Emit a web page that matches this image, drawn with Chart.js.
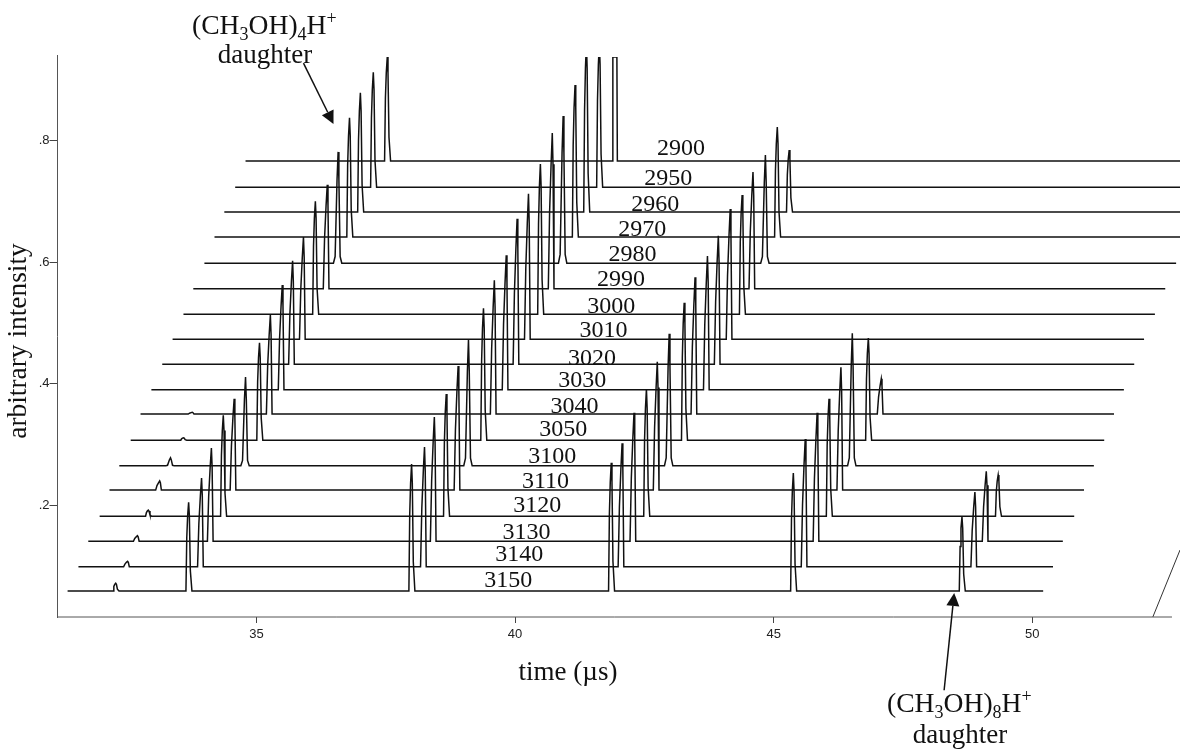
<!DOCTYPE html>
<html>
<head>
<meta charset="utf-8">
<style>html,body{margin:0;padding:0;background:#fff}canvas{display:block}</style>
<script src="https://cdn.jsdelivr.net/npm/chart.js@4/dist/chart.umd.min.js"></script>
</head>
<body>
<canvas id="c" width="1180" height="749"></canvas>
<script>
// Trace labels, back to front
const traceLabels = ['2900','2950','2960','2970','2980','2990','3000','3010','3020','3030','3040','3050','3100','3110','3120','3130','3140','3150'];
const baselines = [.766,.723,.682,.641,.598,.556,.514,.473,.432,.390,.350,.307,.265,.225,.182,.141,.099,.059];
const startTimes = [34.79,34.59,34.38,34.19,33.995,33.78,33.59,33.38,33.18,32.97,32.76,32.57,32.35,32.16,31.97,31.75,31.56,31.35];
const endTimes = [53.65,53.45,53.24,53.05,52.78,52.57,52.37,52.16,51.97,51.77,51.58,51.39,51.19,51.00,50.81,50.59,50.40,50.21];

// Peaks: time and top intensity on each trace (null = no peak on that trace)
const _ = null;
const smallTimes = [_,_,_,_,_,_,_,_,_,_,33.76,33.59,33.34,33.13,32.91,32.70,32.51,32.28];
const smallTops  = [_,_,_,_,_,_,_,_,_,_,.353,.311,.278,.240,.192,.150,.108,.072];
const daughter4Times = [37.53,37.26,37.01,36.80,36.58,36.37,36.14,35.91,35.70,35.50,35.27,35.06,34.79,34.57,34.36,34.13,33.94,33.69];
const daughter4Tops  = [.937,.912,.878,.837,.781,.727,.700,.641,.602,.562,.513,.467,.411,.375,.348,.294,.245,.205];
const midTimes = [41.93,41.63,41.38,41.16,40.93,40.72,40.49,40.26,40.04,39.83,39.60,39.39,39.10,38.90,38.67,38.44,38.25,38.00];
const midTops  = [.937,.96,.96,.891,.840,.812,.761,.712,.671,.611,.570,.524,.472,.429,.383,.345,.296,.268];
const thirdTimes = [_,_,45.30,45.07,44.84,44.60,44.39,44.16,43.93,43.72,43.48,43.27,42.98,42.75,42.54,42.30,42.07,41.86];
const thirdTops  = [_,_,.784,.822,.776,.748,.710,.687,.643,.610,.575,.533,.482,.436,.391,.352,.302,.270];
const fourthTimes = [_,_,_,_,_,_,_,_,_,_,47.08,46.83,46.52,46.30,46.07,45.84,45.61,45.38];
const fourthTops  = [_,_,_,_,_,_,_,_,_,_,.408,.475,.483,.427,.375,.352,.309,.253];
const daughter8Times = [_,_,_,_,_,_,_,_,_,_,_,_,_,_,49.34,49.11,48.89,48.64];
const daughter8Tops  = [_,_,_,_,_,_,_,_,_,_,_,_,_,_,.250,.256,.222,.181];
const peakFamilies = [[smallTimes,smallTops],[daughter4Times,daughter4Tops],[midTimes,midTops],[thirdTimes,thirdTops],[fourthTimes,fourthTops],[daughter8Times,daughter8Tops]];

const profiles = {
  R:{dt:[-.052,-.036,-.019,0,.014,.033,.064],      f:[0,.6,.85,1,.85,.23,0]},
  L:{dt:[-.077,-.052,-.023,0,.014,.033],           f:[0,.49,.8,1,.8,0]},
  B:{dt:[-.091,-.058,-.021,0,.015,.039,.071],      f:[0,.06,.75,1,.75,.06,0]},
  F:{dt:[-.048,-.039,.039,.048],                   f:[0,1,1,0]}   // saturated, flat-topped peak
};
const traceProfile = ['R','R','R','R','B','L','R','L','L','L','L','R','B','L','R','L','L','R'];
const saturatedPeak = {trace:0, family:2};

// Label positions (time, intensity)
const labelTimes = [43.21,42.96,42.71,42.46,42.27,42.05,41.86,41.71,41.49,41.30,41.15,40.93,40.72,40.59,40.43,40.22,40.08,39.87];
const labelLevels = [.789,.741,.697,.656,.616,.575,.529,.490,.445,.408,.365,.327,.284,.242,.202,.159,.122,.079];

const xMin = 31.155, xMax = 52.855, yMin = .0164, yMax = .9403;
const floorTimes = [31.155,52.70], floorLevels = [.0164,.0164];
const cornerTimes = [52.33,52.855], cornerLevels = [.0164,.1265];
const arrow4 = {from:[35.91,.927], to:[36.49,.827]};
const arrow8 = {from:[48.295,-.104], to:[48.49,.056]};

const INK = '#111';

function tracePoints(i){
  const pts = [{x:startTimes[i], y:baselines[i]}];
  peakFamilies.forEach(([ts,hs],fam)=>{
    if (ts[i]===null) return;
    const p = (i===saturatedPeak.trace && fam===saturatedPeak.family) ? profiles.F : profiles[traceProfile[i]];
    p.dt.forEach((d,k)=>pts.push({x:ts[i]+d, y:baselines[i]+(hs[i]-baselines[i])*p.f[k]}));
  });
  pts.push({x:endTimes[i], y:baselines[i]});
  return pts;
}

const datasets = traceLabels.map((l,i)=>({
  label:l, data:tracePoints(i), borderColor:INK, borderWidth:1.5, pointRadius:0, tension:0,
  showLine:true, fill:false, borderJoinStyle:'miter', clip:{left:0,top:-2,right:0,bottom:0}
}));
datasets.push({label:'floor', data:floorTimes.map((x,k)=>({x,y:floorLevels[k]})), borderColor:'#555', borderWidth:1, pointRadius:0, showLine:true, clip:{left:2,top:0,right:0,bottom:2}});
datasets.push({label:'corner', data:cornerTimes.map((x,k)=>({x,y:cornerLevels[k]})), borderColor:'#333', borderWidth:1, pointRadius:0, showLine:true, clip:{left:0,top:0,right:0,bottom:2}});

function runs(ctx, parts, x, y, size){
  ctx.textAlign='left'; ctx.textBaseline='alphabetic';
  parts.forEach(([t,kind])=>{
    const s = kind ? Math.round(size*.66) : size;
    ctx.font = s+'px "Liberation Serif"';
    const dy = kind==='sub' ? size*.2 : kind==='sup' ? -size*.36 : 0;
    ctx.fillText(t, x, y+dy);
    x += ctx.measureText(t).width;
  });
}

const annotate = {
  id:'annotate',
  afterDatasetsDraw(chart){
    const ctx = chart.ctx, X = chart.scales.x, Y = chart.scales.y;
    ctx.save();
    ctx.fillStyle = INK; ctx.strokeStyle = INK;
    ctx.font = '24px "Liberation Serif"'; ctx.textAlign='center'; ctx.textBaseline='middle';
    traceLabels.forEach((l,i)=>ctx.fillText(l, X.getPixelForValue(labelTimes[i]), Y.getPixelForValue(labelLevels[i])+2));

    ctx.font = '27px "Liberation Serif"';
    ctx.fillText('time (\u00b5s)', 568, 673);
    ctx.save(); ctx.translate(19,341); ctx.rotate(-Math.PI/2); ctx.font='27.4px "Liberation Serif"'; ctx.fillText('arbitrary intensity',0,0); ctx.restore();

    runs(ctx, [['(CH'],['3','sub'],['OH)'],['4','sub'],['H'],['+','sup']], 192, 34, 27.6);
    ctx.font='27px "Liberation Serif"'; ctx.textAlign='center'; ctx.textBaseline='alphabetic';
    ctx.fillText('daughter', 265, 63);
    runs(ctx, [['(CH'],['3','sub'],['OH)'],['8','sub'],['H'],['+','sup']], 887, 712, 27.6);
    ctx.font='27px "Liberation Serif"'; ctx.textAlign='center'; ctx.textBaseline='alphabetic';
    ctx.fillText('daughter', 960, 743);

    [arrow4,arrow8].forEach(a=>{
      const x0=X.getPixelForValue(a.from[0]), y0=Y.getPixelForValue(a.from[1]);
      const x1=X.getPixelForValue(a.to[0]), y1=Y.getPixelForValue(a.to[1]);
      const ang=Math.atan2(y1-y0,x1-x0), L=13, W=6.5;
      const bx=x1-L*Math.cos(ang), by=y1-L*Math.sin(ang);
      ctx.lineWidth=1.5; ctx.beginPath(); ctx.moveTo(x0,y0); ctx.lineTo(bx,by); ctx.stroke();
      ctx.beginPath(); ctx.moveTo(x1,y1);
      ctx.lineTo(bx-W*Math.sin(ang),by+W*Math.cos(ang));
      ctx.lineTo(bx+W*Math.sin(ang),by-W*Math.cos(ang));
      ctx.closePath(); ctx.fill();
    });
    ctx.restore();
  }
};

new Chart(document.getElementById('c'),{
  type:'scatter',
  data:{datasets},
  plugins:[annotate],
  options:{
    responsive:false, animation:false, devicePixelRatio:1,
    layout:{padding:{top:55,right:0,left:0,bottom:0}},
    plugins:{legend:{display:false},tooltip:{enabled:false},title:{display:false}},
    scales:{
      x:{type:'linear',min:xMin,max:xMax,
        afterFit(s){s.height=132;},
        border:{display:false},
        grid:{drawOnChartArea:false,drawTicks:true,tickLength:6,color:'#444',lineWidth:1},
        ticks:{stepSize:5,includeBounds:false,autoSkip:false,maxRotation:0,padding:4,color:'#222',
          font:{family:'"Liberation Sans"',size:13},callback:v=>String(v)}},
      y:{type:'linear',min:yMin,max:yMax,
        afterFit(s){s.width=57.5;},
        border:{display:true,color:'#555',width:1},
        grid:{drawOnChartArea:false,drawTicks:true,tickLength:8,color:'#444',lineWidth:1},
        ticks:{stepSize:.2,includeBounds:false,autoSkip:false,padding:0,color:'#222',
          font:{family:'"Liberation Sans"',size:13},callback:v=>v.toFixed(1).replace(/^0/,'')}}
    }
  }
});
</script>
</body>
</html>
